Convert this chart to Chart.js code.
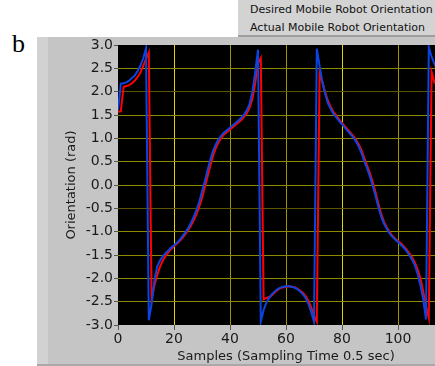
<!DOCTYPE html>
<html>
<head>
<meta charset="utf-8">
<script src="https://cdn.jsdelivr.net/npm/chart.js@4.4.1/dist/chart.umd.min.js"></script>
<style>
    html, body { margin: 0; padding: 0; }
    body { width: 435px; height: 366px; overflow: hidden; position: relative; background: #fff; font-family: "DejaVu Sans", sans-serif; }
    #panel { position: absolute; left: 37px; top: 37px; width: 398px; height: 327px; background: linear-gradient(to right, #d2d2d2 0, #d2d2d2 11px, #c5c5c5 11px); border-bottom: 2px solid #a9a9a9; }
    #legendBox { position: absolute; left: 238px; top: 0; width: 197px; height: 35px; background: #d3d3d3; border-bottom: 2px solid #9e9e9e; font-size: 11px; color: #111; }
    #legendBox div { position: absolute; left: 12px; white-space: nowrap; }
    #tag { position: absolute; left: 12px; top: 29px; font: 26px "Liberation Serif", serif; color: #000; }
    #wrap { position: absolute; left: 0; top: 0; width: 455px; height: 366px; }
</style>
</head>
<body>
<div id="panel"></div>
<div id="legendBox">
    <div style="top:3px">Desired Mobile Robot Orientation</div>
    <div style="top:21px">Actual Mobile Robot Orientation</div>
</div>
<div id="tag">b</div>
<div id="wrap"><canvas id="myChart" width="455" height="366"></canvas></div>
<script>
// samples 0..114 (sampling time 0.5 sec)
const samples = Array.from({ length: 115 }, (_, i) => i);

const desiredOrientation = [
    1.6, 2.17, 2.18, 2.2, 2.24, 2.29, 2.35, 2.44, 2.56, 2.71,
    2.93, -2.9, -2.55, -2.05, -1.75, -1.62, -1.53, -1.46, -1.4, -1.34,
    -1.29, -1.24, -1.18, -1.1, -1.02, -0.93, -0.82, -0.69, -0.54, -0.36,
    -0.14, 0.08, 0.32, 0.55, 0.74, 0.88, 0.99, 1.07, 1.13, 1.18,
    1.23, 1.28, 1.33, 1.38, 1.44, 1.51, 1.6, 1.74, 2.0, 2.42,
    2.9, -2.93, -2.68, -2.52, -2.42, -2.34, -2.28, -2.23, -2.2, -2.18,
    -2.17, -2.17, -2.18, -2.2, -2.23, -2.28, -2.34, -2.42, -2.55, -2.72,
    -2.93, 2.92, 2.55, 2.2, 1.95, 1.75, 1.63, 1.52, 1.45, 1.37,
    1.3, 1.23, 1.16, 1.09, 1.02, 0.93, 0.82, 0.68, 0.5, 0.35,
    0.18, -0.02, -0.24, -0.47, -0.68, -0.83, -0.94, -1.04, -1.11, -1.17,
    -1.22, -1.28, -1.34, -1.41, -1.5, -1.6, -1.72, -1.9, -2.15, -2.45,
    -2.88, 2.95, 2.75, 2.6, 2.45
];

const actualOrientation = [
    1.57, 1.58, 2.1, 2.12, 2.14, 2.18, 2.24, 2.31, 2.41, 2.55,
    2.7, 2.84, -2.45, -2.15, -1.93, -1.75, -1.62, -1.52, -1.44, -1.37,
    -1.31, -1.26, -1.2, -1.14, -1.06, -0.97, -0.88, -0.76, -0.63, -0.47,
    -0.28, -0.05, 0.18, 0.42, 0.64, 0.8, 0.93, 1.02, 1.09, 1.14,
    1.19, 1.24, 1.29, 1.34, 1.39, 1.46, 1.54, 1.66, 1.85, 2.18,
    2.6, 2.72, -2.45, -2.42, -2.4, -2.36, -2.3, -2.25, -2.21, -2.19,
    -2.18, -2.17, -2.18, -2.19, -2.22, -2.26, -2.31, -2.38, -2.48, -2.62,
    -2.8, -2.93, 2.39, 2.2, 1.98, 1.8, 1.67, 1.56, 1.48, 1.4,
    1.33, 1.26, 1.19, 1.12, 1.05, 0.97, 0.87, 0.74, 0.57, 0.41,
    0.25, 0.06, -0.16, -0.4, -0.62, -0.79, -0.91, -1.01, -1.09, -1.15,
    -1.2, -1.25, -1.31, -1.38, -1.46, -1.55, -1.66, -1.8, -2.0, -2.28,
    -2.6, -2.85, 2.42, 2.2, 2.28
];

const xTicks = [0, 20, 40, 60, 80, 100, 120];
const yTicks = [-3.0, -2.5, -2.0, -1.5, -1.0, -0.5, 0.0, 0.5, 1.0, 1.5, 2.0, 2.5, 3.0];

const plotBg = {
    id: 'plotBg',
    beforeDraw(chart) {
        const a = chart.chartArea;
        chart.ctx.save();
        chart.ctx.fillStyle = '#000';
        chart.ctx.fillRect(a.left, a.top, a.right - a.left, a.bottom - a.top);
        chart.ctx.restore();
    }
};

const tickFont = { family: 'DejaVu Sans', size: 14 };
const titleFont = { family: 'DejaVu Sans', size: 13 };

new Chart(document.getElementById('myChart'), {
    type: 'line',
    data: {
        datasets: [{
            label: 'Desired Mobile Robot Orientation',
            data: samples.map((s, i) => ({ x: s, y: desiredOrientation[i] })),
            borderColor: '#0b44e0',
            borderWidth: 2,
            pointRadius: 0,
            tension: 0
        }, {
            label: 'Actual Mobile Robot Orientation',
            data: samples.map((s, i) => ({ x: s, y: actualOrientation[i] })),
            borderColor: '#ff0000',
            borderWidth: 2,
            pointRadius: 0,
            tension: 0
        }]
    },
    options: {
        responsive: false,
        animation: false,
        devicePixelRatio: 1,
        layout: { padding: { left: 60, top: 45, right: 1, bottom: 0 } },
        plugins: { legend: { display: false }, tooltip: { enabled: false } },
        scales: {
            x: {
                type: 'linear',
                min: 0,
                max: 120,
                afterBuildTicks: scale => { scale.ticks = xTicks.map(v => ({ value: v })); },
                afterFit: scale => { scale.height = 41; },
                border: { display: false },
                grid: {
                    color: ctx => {
                        const v = ctx.tick && ctx.tick.value;
                        if (v === 0 || v === 120) return 'rgba(0,0,0,0)';
                        if (v === 20 || v === 80) return '#e2d400';
                        return '#9e9400';
                    },
                    tickColor: '#555',
                    tickLength: 5,
                    lineWidth: 1
                },
                ticks: {
                    font: tickFont,
                    color: '#1a1a1a',
                    padding: 1,
                    maxRotation: 0,
                    callback: v => (v === 120 ? '' : String(v))
                },
                title: {
                    display: true,
                    text: 'Samples (Sampling Time 0.5 sec)',
                    font: titleFont,
                    color: '#1a1a1a',
                    padding: { top: 0, bottom: 2 }
                }
            },
            y: {
                min: -3,
                max: 3,
                afterBuildTicks: scale => { scale.ticks = yTicks.map(v => ({ value: v })); },
                afterFit: scale => { scale.width = 58; },
                border: { display: false },
                grid: {
                    color: ctx => {
                        const v = ctx.tick && ctx.tick.value;
                        if (v === 3 || v === -3) return 'rgba(0,0,0,0)';
                        if (v === 2 || v === -0.5) return '#5e5500';
                        return '#8e8a00';
                    },
                    tickColor: '#555',
                    tickLength: 4,
                    lineWidth: 1
                },
                ticks: {
                    font: tickFont,
                    color: '#1a1a1a',
                    padding: 1,
                    callback: v => Number(v).toFixed(1)
                },
                title: {
                    display: true,
                    text: 'Orientation (rad)',
                    font: titleFont,
                    color: '#1a1a1a',
                    padding: { top: 4, bottom: 0 }
                }
            }
        }
    },
    plugins: [plotBg]
});
</script>
</body>
</html>
